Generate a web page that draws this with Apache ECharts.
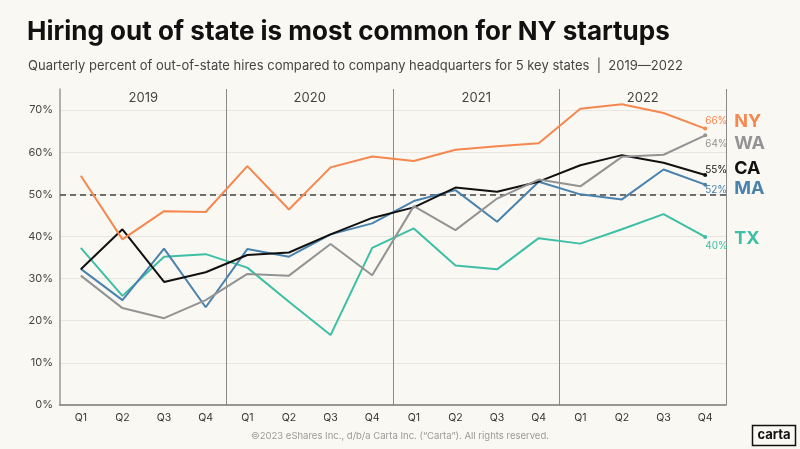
<!DOCTYPE html>
<html>
<head>
<meta charset="utf-8">
<script src="https://cdn.jsdelivr.net/npm/echarts@6/dist/echarts.min.js"></script>
<style>
html,body{margin:0;padding:0;background:#faf8f2;}
#c{width:800px;height:449px;}
</style>
</head>
<body>
<div id="c"></div>
<script>
var quarters = ['Q1','Q2','Q3','Q4','Q1','Q2','Q3','Q4','Q1','Q2','Q3','Q4','Q1','Q2','Q3','Q4'];
var years = ['2019','2020','2021','2022'];
var NY = [54.4,39.3,46.0,45.8,56.7,46.4,56.4,59.0,57.9,60.6,61.4,62.1,70.3,71.4,69.3,65.6];
var WA = [30.7,23.0,20.6,24.9,31.1,30.7,38.2,30.8,47.2,41.5,49.0,53.5,51.9,58.9,59.4,64.0];
var CA = [32.2,41.7,29.2,31.5,35.6,36.2,40.5,44.4,46.9,51.6,50.6,53.0,56.9,59.3,57.5,54.6];
var MA = [32.3,24.9,37.1,23.2,37.0,35.2,40.5,43.1,48.4,51.0,43.5,53.0,50.0,48.8,55.9,52.3];
var TX = [37.3,25.9,35.2,35.8,32.6,24.5,16.6,37.3,41.9,33.1,32.2,39.6,38.3,41.7,45.3,39.9];
var threshold = 50;

var FONT = 'Inter, Lato, "DejaVu Sans", sans-serif';
var styles = [
  {name:'NY', data:NY, color:'#f5874f', pct:[-4,-8], nm:[29,-7]},
  {name:'WA', data:WA, color:'#939393', pct:[-4,9], nm:[29,8]},
  {name:'CA', data:CA, color:'#111111', pct:[-4,-5], nm:[29,-6]},
  {name:'MA', data:MA, color:'#4a82ae', pct:[-4,5], nm:[29,4]},
  {name:'TX', data:TX, color:'#3cbfa4', pct:[-4,9], nm:[29,2]}
];

var series = styles.map(function(s, idx){
  var last = s.data.length - 1;
  var d = s.data.map(function(v, i){
    if (i === last) {
      return {value: v, symbol:'circle', symbolSize:4,
        label:{show:true, position:'right', distance:2, offset:s.pct,
          formatter: Math.round(v) + '%', color:s.color, fontSize:10, fontFamily:FONT}};
    }
    return v;
  });
  var ser = {
    name: s.name, type:'line', data:d, showSymbol:true, symbol:'none',
    lineStyle:{color:s.color, width:2}, itemStyle:{color:s.color},
    z: 10 - idx, animation:false,
    endLabel:{show:true, formatter:s.name, color:s.color, fontSize:18, fontWeight:'bold',
      fontFamily:FONT, offset:s.nm, distance:0}
  };
  if (idx === 0) {
    ser.markLine = {silent:true, symbol:'none', animation:false,
      label:{show:false},
      lineStyle:{color:'#444', type:[6,4], width:1.5},
      data:[{yAxis:threshold}]};
  }
  return ser;
});

var chart = echarts.init(document.getElementById('c'));
chart.setOption({
  backgroundColor:'#faf8f2',
  animation:false,
  title:[
    {text:'Hiring out of state is most common for NY startups', left:22, top:14,
     textStyle:{fontSize:26, fontWeight:'bold', color:'#111', fontFamily:FONT}},
    {text:'Quarterly percent of out-of-state hires compared to company headquarters for 5 key states  |  2019\u20142022',
     left:23, top:55, textStyle:{fontSize:13, fontWeight:'normal', color:'#444', fontFamily:FONT}},
    {text:'\u00a92023 eShares Inc., d/b/a Carta Inc. (\u201cCarta\u201d). All rights reserved.',
     left:'center', top:426, textStyle:{fontSize:9.5, fontWeight:'normal', color:'#9a9a9a', fontFamily:FONT}}
  ],
  graphic:[
    {type:'group', left:750, top:423, children:[
      {type:'rect', shape:{x:0,y:0,width:43,height:20}, style:{fill:'none', stroke:'#111', lineWidth:1.5}},
      {type:'text', x:21.5, y:10, style:{text:'carta', fill:'#111', font:'bold 13px '+FONT, align:'center', verticalAlign:'middle'}}
    ]}
  ],
  grid:{left:60, right:74, top:89, bottom:44, containLabel:false},
  xAxis:[
    {type:'category', data:quarters, boundaryGap:true, position:'bottom',
     axisLine:{show:true, lineStyle:{color:'#777', width:1.5}},
     axisTick:{show:false},
     axisLabel:{color:'#333', fontSize:10.5, margin:7, fontFamily:FONT, interval:0},
     splitLine:{show:true, interval:function(i){return i===4||i===8||i===12;},
       lineStyle:{color:'#8a8a8a', width:1}}},
    {type:'category', data:years, position:'top', boundaryGap:true,
     axisLine:{show:false}, axisTick:{show:false},
     axisLabel:{color:'#444', fontSize:13, margin:-16, fontFamily:FONT}}
  ],
  yAxis:{type:'value', min:0, max:75, interval:10,
    axisLine:{show:true, lineStyle:{color:'#999', width:1.5}},
    axisTick:{show:false},
    axisLabel:{formatter:'{value}%', color:'#444', fontSize:11, margin:7, fontFamily:FONT, showMaxLabel:false},
    splitLine:{show:true, showMaxLine:false, showMinLine:false, lineStyle:{color:'#e9e6df', width:1}}},
  series: series
});
</script>
</body>
</html>
